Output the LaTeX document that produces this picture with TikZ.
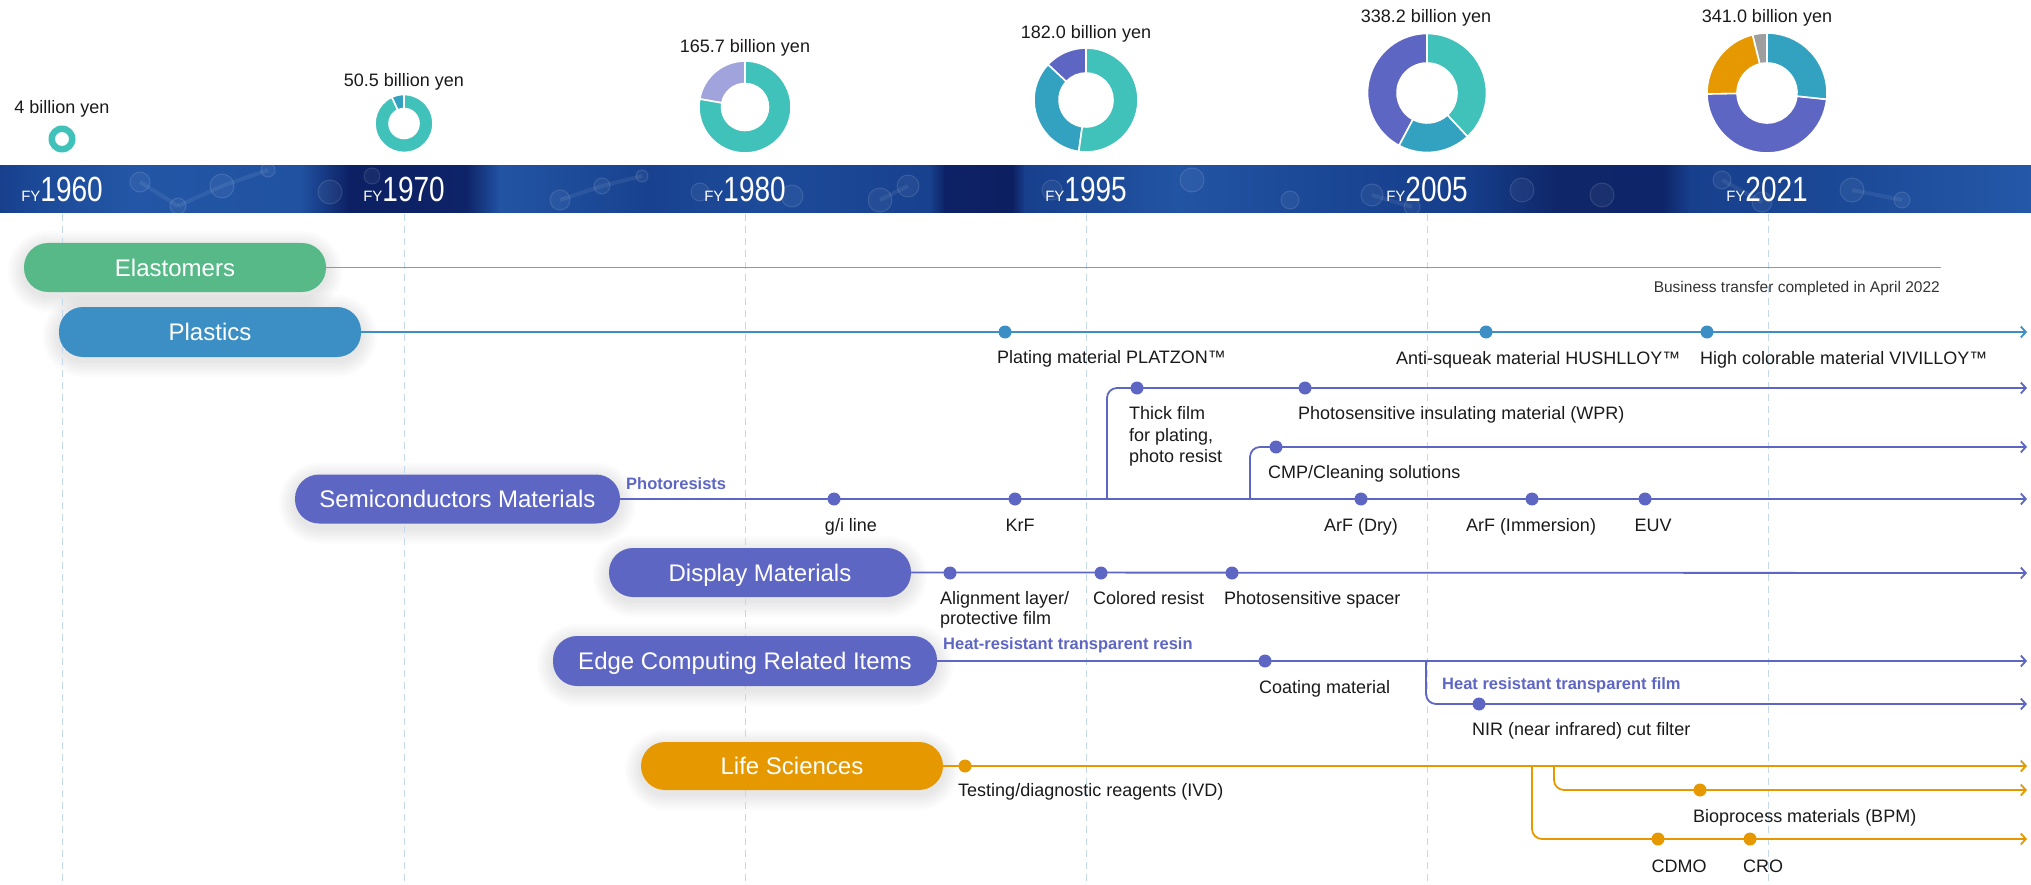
\documentclass[tikz,border=0pt]{standalone}
\usepackage{fontspec}
\setmainfont{Liberation Sans}
\usepackage{graphicx}
\usetikzlibrary{arrows.meta,backgrounds}
\definecolor{cTeal}{HTML}{40C1B9}
\definecolor{cBlueD}{HTML}{33A2C1}
\definecolor{cBlue}{HTML}{3C8FC5}
\definecolor{cPurple}{HTML}{5E66C4}
\definecolor{cLav}{HTML}{A1A4DC}
\definecolor{cGreen}{HTML}{57B988}
\definecolor{cOrange}{HTML}{E69800}
\definecolor{cGray}{HTML}{9E9E9E}
\definecolor{cDash}{HTML}{C6D9EA}
\definecolor{cText}{HTML}{1A1A1A}
\newcommand\dseg[5]{\filldraw[fill=#1,draw=white,line width=1.6pt] (#2:#4) arc[start angle=#2,end angle=#3,radius=#4] -- (#3:#5) arc[start angle=#3,end angle=#2,radius=#5] -- cycle;}
\newcommand\fy[1]{{\fontsize{15}{15}\selectfont FY}{\fontsize{35}{35}\selectfont\scalebox{0.8}[1]{#1}}}
\begin{document}
\begin{tikzpicture}[x=1pt,y=-1pt,
  lbl/.style={font=\fontsize{18}{22}\selectfont, text=cText, inner sep=0pt, text height=12.9pt, text depth=0pt},
  blbl/.style={font=\bfseries\fontsize{16.5}{20}\selectfont, text=cPurple, inner sep=0pt, text height=11.8pt, text depth=0pt},
  pillbox/.style={rectangle, rounded corners=24pt, fill=#1, text=white, font=\fontsize{24}{28}\selectfont, minimum height=49pt, inner sep=0pt, text height=17.2pt, text depth=0pt},
  tdot/.style={circle, fill=#1, inner sep=0pt, minimum size=13pt},
  tline/.style={draw=#1, line width=1.8pt},
  tarrow/.style={tline=#1, -{Straight Barb[length=5pt,width=11pt]}},
  guide/.style={draw=cDash, line width=1pt, dash pattern=on 7pt off 5pt},
]
\useasboundingbox (0,0) rectangle (2031,885);

% ---------- banner ----------
\foreach \xa/\ca/\xb/\cb in {0/173F8C/39/1C4A98, 39/1C4A98/130/2356A6, 130/2356A6/300/2152A2, 300/2152A2/350/0C2063, 350/0C2063/467/0E2468, 467/0E2468/500/2254A4, 500/2254A4/648/18428F, 648/18428F/765/1D4B9A, 765/1D4B9A/930/18418E, 930/18418E/945/0D2266, 945/0D2266/1012/0C1F60, 1012/0C1F60/1025/173F8C, 1025/173F8C/1177/2254A4, 1177/2254A4/1339/1A4694, 1339/1A4694/1469/163E8B, 1469/163E8B/1560/0F2668, 1560/0F2668/1663/0E2569, 1663/0E2569/1690/173F8C, 1690/173F8C/1857/1C4A98, 1857/1C4A98/2031/2458A8}{
  \definecolor{ca}{HTML}{\ca}\definecolor{cb}{HTML}{\cb}
  \shade[left color=ca,right color=cb] (\xa-0.5,166) rectangle (\xb+0.5,213);
}
\begin{scope}
\clip (0,166) rectangle (2031,213);
\foreach \bx/\by/\br in {140/182/10, 178/206/8, 222/186/12, 268/170/7, 330/192/12, 372/176/8, 560/200/10, 602/186/8, 642/176/6, 700/192/9, 792/196/11, 880/200/12, 908/186/11, 1052/190/10, 1192/180/12, 1290/200/9, 1372/195/11, 1412/207/8, 1522/190/12, 1602/195/12, 1722/180/9, 1762/202/10, 1852/190/12, 1902/200/8}{
  \fill[white,opacity=0.05] (\bx,\by) circle (\br);
  \draw[white,opacity=0.12,line width=1pt] (\bx,\by) circle (\br);
}
\foreach \ax/\ay/\bx/\by in {140/182/178/206, 178/206/222/186, 222/186/268/170, 560/200/602/186, 602/186/642/176, 880/200/908/186, 1372/195/1412/207, 1722/180/1762/202, 1852/190/1902/200}{
  \draw[white,opacity=0.07,line width=4pt] (\ax,\ay) -- (\bx,\by);
}
\end{scope}

% ---------- year labels ----------
\node[anchor=base, text=white, inner sep=0pt] (y1960) at (62,202) {\fy{1960}};
\node[anchor=base, text=white, inner sep=0pt] (y1970) at (404,202) {\fy{1970}};
\node[anchor=base, text=white, inner sep=0pt] (y1980) at (745,202) {\fy{1980}};
\node[anchor=base, text=white, inner sep=0pt] (y1995) at (1086,202) {\fy{1995}};
\node[anchor=base, text=white, inner sep=0pt] (y2005) at (1427,202) {\fy{2005}};
\node[anchor=base, text=white, inner sep=0pt] (y2021) at (1767,202) {\fy{2021}};

% ---------- guides ----------
\foreach \gx in {62,404,745,1086,1427,1768}{
  \draw[guide] (\gx,214) -- (\gx,885);
}

% ---------- amounts ----------
\node[lbl] (a1960) at (62,107) {4 billion yen};
\node[lbl] (a1970) at (404,80) {50.5 billion yen};
\node[lbl] (a1980) at (745,46) {165.7 billion yen};
\node[lbl] (a1995) at (1086,32) {182.0 billion yen};
\node[lbl] (a2005) at (1426,16) {338.2 billion yen};
\node[lbl] (a2021) at (1767,16) {341.0 billion yen};

% ---------- donuts ----------
\begin{scope}[shift={(62,139)},yscale=-1]
  \fill[cTeal,even odd rule] (0,0) circle (13.5) (0,0) circle (7);
\end{scope}
\begin{scope}[shift={(404,123.5)},yscale=-1]
  \dseg{cBlueD}{90}{115}{29}{15}
  \dseg{cTeal}{115}{450}{29}{15}
\end{scope}
\begin{scope}[shift={(745,107)},yscale=-1]
  \dseg{cLav}{90}{170}{46}{23.5}
  \dseg{cTeal}{170}{450}{46}{23.5}
\end{scope}
\begin{scope}[shift={(1086,100)},yscale=-1]
  \dseg{cPurple}{90}{137}{52}{27}
  \dseg{cBlueD}{137}{262}{52}{27}
  \dseg{cTeal}{262}{450}{52}{27}
\end{scope}
\begin{scope}[shift={(1427,93)},yscale=-1]
  \dseg{cPurple}{90}{242}{59.5}{30}
  \dseg{cBlueD}{242}{313}{59.5}{30}
  \dseg{cTeal}{313}{450}{59.5}{30}
\end{scope}
\begin{scope}[shift={(1767,93)},yscale=-1]
  \dseg{cGray}{90}{104}{60}{30}
  \dseg{cOrange}{104}{181}{60}{30}
  \dseg{cPurple}{181}{354}{60}{30}
  \dseg{cBlueD}{354}{450}{60}{30}
\end{scope}

% ---------- pills ----------
\node[pillbox=cGreen, minimum width=302pt] (elast) at (175,267.5) {Elastomers};
\node[pillbox=cBlue, minimum width=302pt, minimum height=50pt] (plast) at (210,332) {Plastics};
\node[pillbox=cPurple, minimum width=325pt] (semi) at (457.5,499) {Semiconductors Materials};
\node[pillbox=cPurple, minimum width=302pt] (disp) at (760,572.5) {Display Materials};
\node[pillbox=cPurple, minimum width=384pt, minimum height=50pt] (edge) at (745,661) {Edge Computing Related Items};
\node[pillbox=cOrange, minimum width=302pt, minimum height=48pt] (life) at (792,766) {Life Sciences};

\begin{scope}[on background layer]
\foreach \p in {elast,plast,semi,disp,edge,life}{
  \foreach \k in {2,4,...,16}{
    \pgfmathsetmacro\rc{25+\k}
    \fill[black,opacity=0.011,rounded corners=\rc pt] ([shift={(-\k,-\k+4)}]\p.north west) rectangle ([shift={(\k,\k+4)}]\p.south east);
  }
}
\end{scope}

% ---------- end coordinates ----------
\coordinate (elastEnd) at (1941,267.5);
\coordinate (plastEnd) at (2027,332);
\coordinate (thickEnd) at (2027,388);
\coordinate (cmpEnd) at (2027,447);
\coordinate (semiEnd) at (2027,499);
\coordinate (dispEnd) at (2027,573);
\coordinate (edgeEnd) at (2027,661);
\coordinate (nirEnd) at (2027,704);
\coordinate (lifeEnd) at (2027,766);
\coordinate (bpmEnd) at (2027,790);
\coordinate (cdmoEnd) at (2027,839);
\coordinate (brThick) at (1107,499);
\coordinate (brCmp) at (1250,499);
\coordinate (brNir) at (1426,661);
\coordinate (brBpm) at (1554,766);
\coordinate (brCdmo) at (1532,766);

% ---------- connectors ----------
\draw[tline=cGreen, line width=1.6pt] (elast.east) -- (elastEnd);
\draw[tarrow=cBlue] (plast.east) -- (plastEnd);
\draw[tarrow=cPurple] (semi.east) -- (semiEnd);
\draw[tarrow=cPurple, rounded corners=10pt] (brThick) |- (thickEnd);
\draw[tarrow=cPurple, rounded corners=10pt] (brCmp) |- (cmpEnd);
\draw[tarrow=cPurple] (disp.east) -- (dispEnd);
\draw[tarrow=cPurple] (edge.east) -- (edgeEnd);
\draw[tarrow=cPurple, rounded corners=10pt] (brNir) |- (nirEnd);
\draw[tarrow=cOrange] (life.east) -- (lifeEnd);
\draw[tarrow=cOrange, rounded corners=10pt] (brBpm) |- (bpmEnd);
\draw[tarrow=cOrange, rounded corners=10pt] (brCdmo) |- (cdmoEnd);

% ---------- dots ----------
\node[tdot=cBlue] (dPlatzon) at (1005,332) {};
\node[tdot=cBlue] (dHush) at (1486,332) {};
\node[tdot=cBlue] (dVivi) at (1707,332) {};
\node[tdot=cPurple] (dThick) at (1137,388) {};
\node[tdot=cPurple] (dWpr) at (1305,388) {};
\node[tdot=cPurple] (dCmp) at (1276,447) {};
\node[tdot=cPurple] (dGi) at (834,499) {};
\node[tdot=cPurple] (dKrf) at (1015,499) {};
\node[tdot=cPurple] (dArfDry) at (1361,499) {};
\node[tdot=cPurple] (dArfIm) at (1532,499) {};
\node[tdot=cPurple] (dEuv) at (1645,499) {};
\node[tdot=cPurple] (dAlign) at (950,573) {};
\node[tdot=cPurple] (dColor) at (1101,573) {};
\node[tdot=cPurple] (dSpacer) at (1232,573) {};
\node[tdot=cPurple] (dCoat) at (1265,661) {};
\node[tdot=cPurple] (dNir) at (1479,704) {};
\node[tdot=cOrange] (dIvd) at (965,766) {};
\node[tdot=cOrange] (dBpm) at (1700,790) {};
\node[tdot=cOrange] (dCdmo) at (1658,839) {};
\node[tdot=cOrange] (dCro) at (1750,839) {};

% ---------- labels ----------
\node[lbl, anchor=east, font=\fontsize{15.5}{19}\selectfont, text=black!80, text height=11.1pt] (lBusiness) at (1940,287) {Business transfer completed in April 2022};
\node[lbl, anchor=west] (lPlatzon) at (997,357) {Plating material PLATZON™};
\node[lbl, anchor=west] (lHush) at (1396,358) {Anti-squeak material HUSHLLOY™};
\node[lbl, anchor=west] (lVivi) at (1700,358) {High colorable material VIVILLOY™};
\node[lbl, anchor=west] (lThickA) at (1129,413) {Thick film};
\node[lbl, anchor=west] (lThickB) at (1129,435) {for plating,};
\node[lbl, anchor=west] (lThickC) at (1129,456) {photo resist};
\node[lbl, anchor=west] (lWpr) at (1298,413) {Photosensitive insulating material (WPR)};
\node[lbl, anchor=west] (lCmp) at (1268,472) {CMP/Cleaning solutions};
\node[blbl, anchor=west] (lPhoto) at (626,484) {Photoresists};
\node[lbl] (lGi) at (851,525) {g/i line};
\node[lbl] (lKrf) at (1020,525) {KrF};
\node[lbl] (lArfDry) at (1361,525) {ArF (Dry)};
\node[lbl] (lArfIm) at (1531,525) {ArF (Immersion)};
\node[lbl] (lEuv) at (1653,525) {EUV};
\node[lbl, anchor=west] (lAlignA) at (940,598) {Alignment layer/};
\node[lbl, anchor=west] (lAlignB) at (940,618) {protective film};
\node[lbl, anchor=west] (lColor) at (1093,598) {Colored resist};
\node[lbl, anchor=west] (lSpacer) at (1224,598) {Photosensitive spacer};
\node[blbl, anchor=west] (lResin) at (943,644) {Heat-resistant transparent resin};
\node[lbl, anchor=west] (lCoat) at (1259,687) {Coating material};
\node[blbl, anchor=west] (lFilm) at (1442,684) {Heat resistant transparent film};
\node[lbl, anchor=west] (lNir) at (1472,729) {NIR (near infrared) cut filter};
\node[lbl, anchor=west] (lIvd) at (958,790) {Testing/diagnostic reagents (IVD)};
\node[lbl, anchor=west] (lBpm) at (1693,816) {Bioprocess materials (BPM)};
\node[lbl] (lCdmo) at (1679,866) {CDMO};
\node[lbl] (lCro) at (1763,866) {CRO};
\end{tikzpicture}
\end{document}
